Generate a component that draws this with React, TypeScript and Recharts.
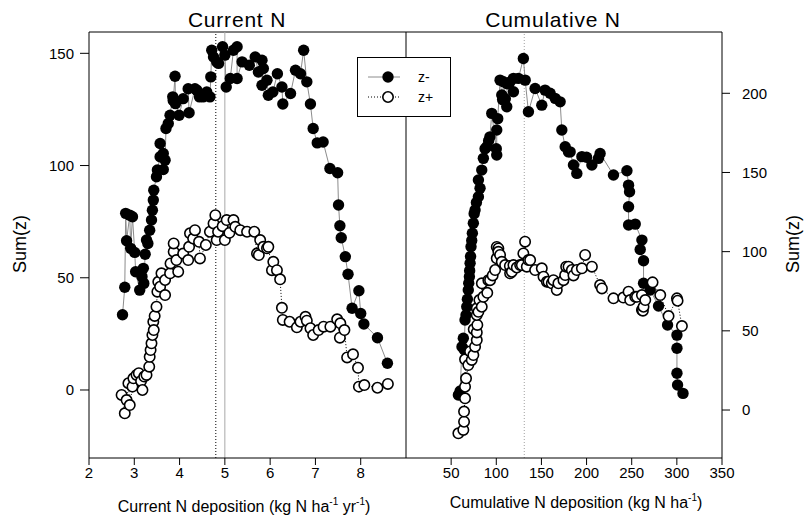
import React from 'react';
import { ScatterChart, Scatter, XAxis, YAxis, ReferenceLine } from 'recharts';

const FONT = '"Liberation Sans", Arial, sans-serif';

// tick labels
const currentTicksX = [2, 3, 4, 5, 6, 7, 8];
const currentTicksY = [0, 50, 100, 150];
const cumulativeTicksX = [50, 100, 150, 200, 250, 300, 350];
const cumulativeTicksY = [0, 50, 100, 150, 200];

// change points (vertical lines)
const currentZMinusCp = 5.0;
const currentZPlusCp = 4.8;
const cumulativeCp = 131;

// Current N deposition, z- (filled)
const currentZMinus: [number, number][] = [
  [2.74, 33.5], [2.79, 45.8], [2.81, 78.7], [2.83, 66.5], [2.9, 77.9], [2.92, 63.1], [2.96, 77.2],
  [3.01, 61.3], [3.03, 52.7], [3.12, 44.5], [3.17, 50.5], [3.2, 54.2], [3.21, 47.5], [3.24, 60.5],
  [3.27, 66.8], [3.3, 65.3], [3.34, 71.2], [3.38, 75.7], [3.4, 80.1], [3.42, 84.6], [3.43, 89.0],
  [3.49, 95.0], [3.51, 98.0], [3.57, 103.9], [3.57, 109.8], [3.64, 105.4], [3.64, 98.2], [3.68, 102.4],
  [3.7, 116.5], [3.75, 118.7], [3.79, 122.4], [3.85, 130.6], [3.86, 129.0], [3.9, 139.8], [3.91, 127.6],
  [3.99, 122.4], [4.08, 129.8], [4.19, 134.2], [4.21, 123.5], [4.34, 134.2], [4.38, 133.6], [4.44, 130.6],
  [4.52, 130.6], [4.6, 132.8], [4.67, 130.6], [4.69, 139.5], [4.71, 151.4], [4.75, 148.4], [4.82, 146.2],
  [4.86, 145.5], [4.95, 152.9], [5.0, 149.2], [5.03, 135.0], [5.12, 138.8], [5.19, 151.4], [5.27, 152.9],
  [5.27, 138.8], [5.38, 146.2], [5.54, 144.7], [5.67, 148.4], [5.74, 141.7], [5.82, 146.9], [5.82, 135.8],
  [5.85, 143.2], [5.93, 138.0], [5.96, 131.3], [6.06, 132.8], [6.16, 140.9], [6.26, 135.0], [6.28, 127.4],
  [6.45, 132.1], [6.56, 142.5], [6.67, 140.9], [6.74, 151.4], [6.81, 137.3], [6.89, 127.4], [6.95, 116.5],
  [7.04, 110.1], [7.17, 110.5], [7.32, 98.7], [7.49, 96.8], [7.51, 82.4], [7.54, 73.2], [7.57, 67.8],
  [7.66, 59.4], [7.72, 51.6], [7.81, 36.4], [7.96, 44.2], [8.0, 34.1], [8.07, 29.4], [8.37, 23.3], [8.59, 11.9],
];

// Current N deposition, z+ (open)
const currentZPlus: [number, number][] = [
  [2.72, -2.2], [2.79, -10.4], [2.83, -4.5], [2.87, 3.0], [2.9, -6.7], [2.96, 1.5], [2.98, 5.2], [3.05, 6.7],
  [3.1, 7.5], [3.15, 4.0], [3.18, 0.0], [3.22, 6.0], [3.27, 6.7], [3.33, 10.4], [3.34, 14.8], [3.36, 17.8],
  [3.38, 20.8], [3.4, 24.5], [3.42, 30.4], [3.43, 26.7], [3.45, 33.0], [3.49, 37.1], [3.51, 43.8], [3.53, 48.2],
  [3.57, 46.0], [3.6, 52.0], [3.68, 42.3], [3.68, 49.0], [3.79, 52.0], [3.8, 56.4], [3.87, 61.6], [3.87, 65.3],
  [3.93, 57.9], [3.97, 52.7], [4.08, 60.8], [4.19, 57.9], [4.21, 63.8], [4.23, 69.8], [4.3, 67.5], [4.34, 71.2],
  [4.43, 66.0], [4.45, 58.6], [4.58, 64.6], [4.67, 70.5], [4.75, 74.2], [4.79, 77.9], [4.82, 66.8], [4.85, 70.5],
  [4.95, 73.0], [5.0, 66.8], [5.04, 75.7], [5.1, 70.0], [5.19, 75.7], [5.23, 72.7], [5.34, 71.2], [5.49, 70.5],
  [5.65, 70.5], [5.71, 60.8], [5.75, 60.1], [5.78, 66.8], [5.85, 63.8], [5.93, 63.1], [5.96, 63.8], [6.04, 53.4],
  [6.07, 57.1], [6.15, 53.4], [6.22, 49.3], [6.26, 36.6], [6.28, 31.2], [6.43, 30.4], [6.59, 27.9], [6.67, 30.4],
  [6.78, 32.6], [6.81, 30.9], [6.89, 27.5], [6.95, 24.5], [7.07, 26.7], [7.18, 28.2], [7.33, 28.2], [7.48, 31.5],
  [7.54, 23.3], [7.55, 29.7], [7.64, 26.7], [7.7, 14.5], [7.83, 15.9], [7.94, 9.9], [7.96, 1.5], [8.08, 2.2],
  [8.37, 1.0], [8.6, 2.7],
];

// Cumulative N deposition, z- (filled)
const cumulativeZMinus: [number, number][] = [
  [58, 9.5], [60, 12], [62, 40], [63.5, 45.3], [64.5, 38], [65.4, 56.8], [66.5, 60], [67.3, 65.2], [68, 70],
  [69, 75.8], [69.5, 80], [70.2, 84.2], [70.5, 88], [71, 92.6], [71.5, 97], [72, 103.1], [72.8, 107],
  [73.5, 111.6], [74.6, 117.9], [75.5, 124], [76.5, 126.3], [78, 131], [80.2, 134.7], [80.2, 145.2],
  [82, 140], [83.9, 151.5], [85.7, 158.9], [87.6, 165], [89.5, 166.2], [91.5, 170], [93, 172.5], [95, 187.3],
  [100, 165], [100.5, 161], [100.5, 176.8], [101.6, 184], [104.2, 208.3], [106.1, 198.9], [107, 196],
  [107.9, 207.3], [110, 196.6], [111.6, 191.5], [112, 206], [115, 207], [119, 201], [119, 209.4],
  [124.5, 209.4], [130, 222], [132, 208.3], [135.6, 188.3], [143, 203], [150.4, 192.5], [154, 202],
  [159.6, 200], [165.2, 196.8], [170.7, 194.6], [172.6, 176.8], [176.3, 166.2], [180, 163], [181.8, 163],
  [185.5, 154.7], [189.2, 149.4], [194.8, 160], [200, 159.6], [205.9, 154.7], [213.2, 158.9], [215, 162],
  [229.8, 148.4], [244.7, 151.1], [246.5, 142], [247.6, 137.8], [246.5, 128.4], [246.5, 116.8],
  [253.9, 117.4], [261.3, 107.3], [259.4, 101.4], [263.1, 94.3], [263.1, 80], [270.5, 75.8], [279.7, 65.7],
  [289.7, 53.7], [300.1, 47.3], [300.1, 39], [300.1, 23.2], [300.8, 15.8], [306.8, 10.5],
];

// Cumulative N deposition, z+ (open)
const cumulativeZPlus: [number, number][] = [
  [58, -14.7], [63.5, -12.6], [64.3, -7.4], [64.3, -1], [65.4, 7.4], [65.4, 14.7], [65.4, 32], [66.5, 20],
  [69, 28.4], [71, 37], [72.8, 31.6], [74.6, 34.7], [75, 51], [76.5, 40], [78.4, 44.2], [78.4, 49],
  [79, 53.7], [78.4, 60], [78.4, 64.2], [80.2, 62], [81.3, 69.4], [83.9, 65.2], [84, 80], [85.7, 71.5],
  [90, 74], [91.2, 82], [93.1, 82], [96, 85], [98.7, 88.4], [100.5, 95.8], [100.5, 103], [102.3, 102],
  [102.3, 99.9], [104.2, 97.9], [106.1, 93.6], [109.8, 91.5], [115, 91], [115.3, 86.3], [117.2, 87.3],
  [119, 91.5], [122.7, 90], [126.4, 91.5], [128.3, 91.5], [130, 98.9], [131.9, 106.3], [133.8, 90.5],
  [135.6, 94.7], [137.5, 94.7], [143, 88.4], [150.4, 89.5], [152.3, 84.2], [156, 81], [157.8, 81],
  [161.5, 80], [163.3, 82], [167, 75.8], [168.8, 80], [174.4, 82], [176.3, 85.2], [177.4, 90.5], [180, 90.5],
  [183.7, 88.4], [185.5, 85], [189.2, 88.4], [194.8, 89.5], [198.4, 97.9], [205.9, 90.5], [215, 78.9],
  [217, 76.8], [229.8, 70.5], [240.7, 71], [246.5, 74.7], [248.3, 69.4], [253.9, 71.5], [255.8, 71.5],
  [261.3, 72.6], [261.3, 63.1], [262.4, 62.7], [263.1, 65.2], [265, 69.4], [273.1, 80.6], [281.6, 72.6],
  [290.8, 59.3], [300.1, 70.5], [300.8, 69], [305.6, 53],
];

const toPts = (arr: [number, number][]) => arr.map(([x, y]) => ({ x, y }));

const FilledDot = (p: any) =>
  p.cx == null ? null : <circle cx={p.cx} cy={p.cy} r={5.7} fill="#000" />;
const OpenDot = (p: any) =>
  p.cx == null ? null : <circle cx={p.cx} cy={p.cy} r={5.2} fill="#fff" stroke="#000" strokeWidth={1.6} />;

const tickStyle = { fill: '#000', fontSize: 15, fontFamily: FONT };
const negLine = { stroke: '#8c8c8c', strokeWidth: 1 };
const posLine = { stroke: '#000', strokeWidth: 1, strokeDasharray: '1 2' };

const abs = (extra: React.CSSProperties): React.CSSProperties => ({ position: 'absolute', whiteSpace: 'nowrap', ...extra });

export default function App() {
  return (
    <div style={{ position: 'absolute', left: 0, top: 0, width: 807, height: 518, background: '#fff', fontFamily: FONT, color: '#000' }}>
      <div style={abs({ left: 0, top: 0 })}>
        <ScatterChart width={406} height={518} margin={{ top: 32, right: 0, bottom: 0, left: 0 }}>
          <XAxis type="number" dataKey="x" domain={[2, 9]} ticks={currentTicksX} height={60}
            tickSize={7} tickMargin={2} tick={tickStyle} stroke="#000" allowDataOverflow />
          <YAxis type="number" dataKey="y" domain={[-30.3, 159.5]} ticks={currentTicksY} width={89}
            tickSize={9} tickMargin={6} tick={tickStyle} stroke="#000" allowDataOverflow />
          <ReferenceLine y={159.5} stroke="#000" />
          <ReferenceLine x={9} stroke="#000" />
          <ReferenceLine x={currentZPlusCp} stroke="#000" strokeDasharray="1 2" />
          <ReferenceLine x={currentZMinusCp} stroke="#a8a8a8" />
          <Scatter data={toPts(currentZMinus)} shape={FilledDot} line={negLine} isAnimationActive={false} />
          <Scatter data={toPts(currentZPlus)} shape={OpenDot} line={posLine} isAnimationActive={false} />
        </ScatterChart>
      </div>
      <div style={abs({ left: 406, top: 0 })}>
        <ScatterChart width={401} height={518} margin={{ top: 32, right: 0, bottom: 0, left: 0 }}>
          <XAxis type="number" dataKey="x" domain={[0, 350]} ticks={cumulativeTicksX} height={60}
            tickSize={7} tickMargin={2} tick={tickStyle} stroke="#000" allowDataOverflow />
          <YAxis type="number" dataKey="y" orientation="right" domain={[-30.3, 238.7]} ticks={cumulativeTicksY}
            width={85} tickSize={8} tickMargin={12} tick={{ ...tickStyle, textAnchor: 'start' }} stroke="#000" allowDataOverflow />
          <ReferenceLine y={238.7} stroke="#000" />
          <ReferenceLine x={0} stroke="#000" />
          <ReferenceLine x={cumulativeCp} stroke="#a0a0a0" strokeDasharray="1 2" />
          <Scatter data={toPts(cumulativeZMinus)} shape={FilledDot} line={negLine} isAnimationActive={false} />
          <Scatter data={toPts(cumulativeZPlus)} shape={OpenDot} line={posLine} isAnimationActive={false} />
        </ScatterChart>
      </div>

      <div style={abs({ left: 237, top: 20, fontSize: 21, transform: 'translate(-50%,-50%)', letterSpacing: 0.8 })}>Current N</div>
      <div style={abs({ left: 553, top: 20, fontSize: 21, transform: 'translate(-50%,-50%)', letterSpacing: 0.8 })}>Cumulative N</div>

      <div style={abs({ left: 20, top: 244, fontSize: 18, transform: 'translate(-50%,-50%) rotate(-90deg)' })}>Sum(z)</div>
      <div style={abs({ left: 793, top: 244, fontSize: 18, transform: 'translate(-50%,-50%) rotate(-90deg)' })}>Sum(z)</div>

      <div style={abs({ left: 244, top: 506, fontSize: 16, transform: 'translate(-50%,-50%)' })}>
        Current N deposition (kg N ha<sup style={{ fontSize: 10 }}>-1</sup> yr<sup style={{ fontSize: 10 }}>-1</sup>)
      </div>
      <div style={abs({ left: 576, top: 502, fontSize: 16, transform: 'translate(-50%,-50%)' })}>
        Cumulative N deposition (kg N ha<sup style={{ fontSize: 10 }}>-1</sup>)
      </div>

      <div style={abs({ left: 357, top: 57, width: 94, height: 60, border: '1px solid #000', background: '#fff', boxSizing: 'border-box' })}>
        <svg width={92} height={58} style={{ display: 'block' }}>
          <line x1={10} x2={42} y1={19} y2={19} stroke="#8c8c8c" strokeWidth={1} />
          <circle cx={30} cy={19} r={5.7} fill="#000" />
          <line x1={10} x2={42} y1={39} y2={39} stroke="#000" strokeWidth={1} strokeDasharray="1 2" />
          <circle cx={30} cy={39} r={5.2} fill="#fff" stroke="#000" strokeWidth={1.6} />
          <text x={60} y={24} fontSize={14} fontFamily={FONT}>z-</text>
          <text x={60} y={44} fontSize={14} fontFamily={FONT}>z+</text>
        </svg>
      </div>
    </div>
  );
}
